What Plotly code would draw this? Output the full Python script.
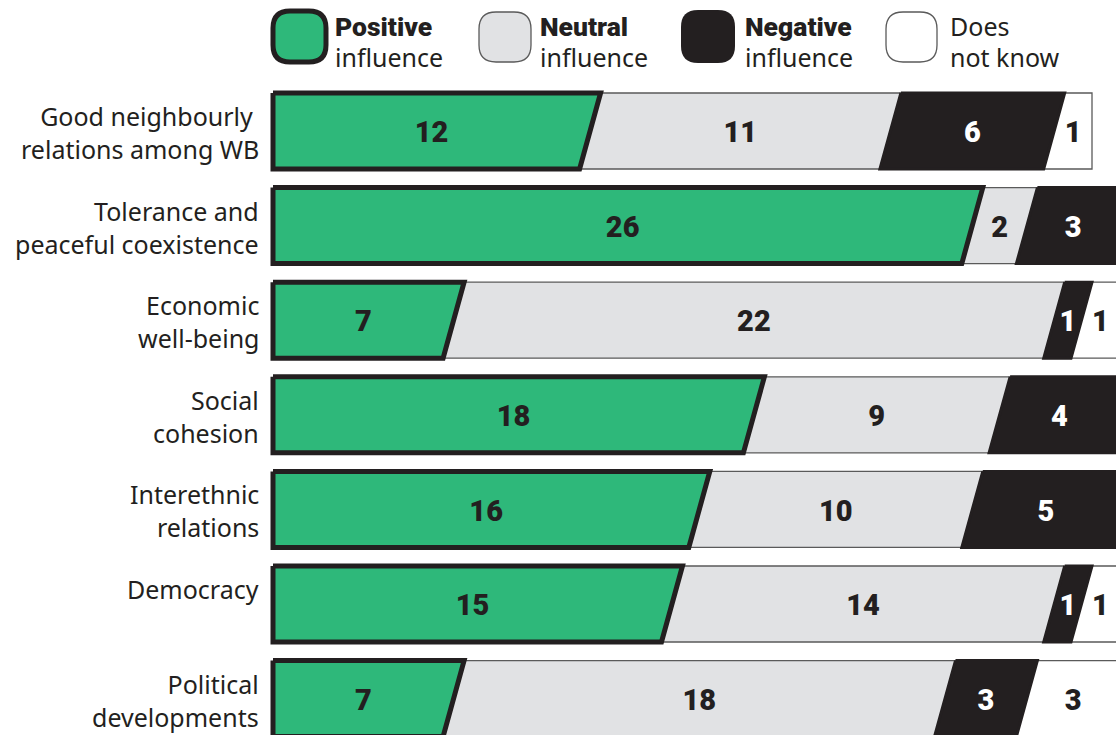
import plotly.graph_objects as go

categories = [
    "Good neighbourly <br>relations among WB",
    "Tolerance and<br>peaceful coexistence",
    "Economic<br>well-being",
    "Social<br>cohesion",
    "Interethnic<br>relations",
    "Democracy",
    "Political<br>developments",
]
positive = [12, 26, 7, 18, 16, 15, 7]
neutral = [11, 2, 22, 9, 10, 14, 18]
negative = [6, 3, 1, 4, 5, 1, 3]
dont_know = [1, 0, 1, 0, 0, 1, 3]

series_names = ["Positive influence", "Neutral influence", "Negative influence", "Does not know"]
series_values = [positive, neutral, negative, dont_know]

W, H = 1116, 735
DARK = "#231f20"
GREEN = "#2eb87a"
GREY = "#e1e2e4"
WHITE = "#ffffff"

fills = [GREEN, GREY, DARK, WHITE]
line_colors = [DARK, "#5a5a5a", DARK, "#5a5a5a"]
line_widths = [5, 1.3, 3, 1.3]
text_colors = [DARK, DARK, WHITE, DARK]

NUM_FONT = "Roboto"
LABEL_FONT = "Noto Sans"

# scale
PX_PER_UNIT = 27.3
X0_PX = 273
ROW_PX = 94.6
ROW0_PX = 131
xr = [-X0_PX / PX_PER_UNIT, (W - X0_PX) / PX_PER_UNIT]
yr = [(H - ROW0_PX) / ROW_PX, -ROW0_PX / ROW_PX]
SLANT = 21 / PX_PER_UNIT
HALF = 38 / ROW_PX
TEXT_DY = 4 / ROW_PX
LABEL_DY = -0.36

n = len(categories)
totals = [sum(s[i] for s in series_values) for i in range(n)]

fig = go.Figure()

polys = {k: ([], []) for k in range(4)}
texts = {k: ([], [], []) for k in range(4)}
for i in range(n):
    start = 0
    for k in range(4):
        v = series_values[k][i]
        if v == 0:
            continue
        a, b = start, start + v
        tot = totals[i]
        lt = a
        lb = a - SLANT if a > 0 else a
        rt = b
        rb = b - SLANT if b < tot else b
        xs, ys = polys[k]
        xs += [lt, rt, rb, lb, lt, None]
        ys += [i - HALF, i - HALF, i + HALF, i + HALF, i - HALF, None]
        lm = a - SLANT / 2 if a > 0 else a
        rm = b - SLANT / 2 if b < tot else b
        tx, ty, tt = texts[k]
        tx.append((lm + rm) / 2)
        ty.append(i + TEXT_DY)
        tt.append(str(v))
        start = b

draw_order = [1, 3, 0, 2]
for k in draw_order:
    xs, ys = polys[k]
    fig.add_trace(go.Scatter(
        x=xs, y=ys, mode="lines", fill="toself", fillcolor=fills[k],
        line=dict(color=line_colors[k], width=line_widths[k]),
        name=series_names[k], hoverinfo="skip", showlegend=False,
    ))
for k in range(4):
    tx, ty, tt = texts[k]
    fig.add_trace(go.Scatter(
        x=tx, y=ty, text=tt, mode="text",
        textfont=dict(family=NUM_FONT, size=29, color=text_colors[k], weight=900),
        showlegend=False, hoverinfo="skip",
    ))

annotations = []
for i, c in enumerate(categories):
    annotations.append(dict(
        x=0, y=i + LABEL_DY, xref="x", yref="y", text=c, showarrow=False,
        xanchor="right", yanchor="top", align="right", xshift=-12,
        font=dict(family=LABEL_FONT, size=25, color=DARK),
    ))

# legend (custom)
def rrect(x0, y0, x1, y1, r):
    def p(x, y):
        return f"{x / W:.5f},{1 - y / H:.5f}"
    return (f"M {p(x0 + r, y0)} L {p(x1 - r, y0)} Q {p(x1, y0)} {p(x1, y0 + r)} "
            f"L {p(x1, y1 - r)} Q {p(x1, y1)} {p(x1 - r, y1)} L {p(x0 + r, y1)} "
            f"Q {p(x0, y1)} {p(x0, y1 - r)} L {p(x0, y0 + r)} Q {p(x0, y0)} {p(x0 + r, y0)} Z")

legend_boxes = [(273, 11, 326, 62), (479, 12, 531, 62), (681, 10, 735, 63), (886, 12, 937, 62)]
legend_bold = ["Positive", "Neutral", "Negative", ""]
legend_line2 = ["influence", "influence", "influence", "not know"]
legend_line1_plain = ["", "", "", "Does"]
legend_text_x = [333, 538, 743, 948]
shapes = []
for k in range(4):
    x0, y0, x1, y1 = legend_boxes[k]
    shapes.append(dict(type="path", xref="paper", yref="paper",
                       path=rrect(x0, y0, x1, y1, 17),
                       fillcolor=fills[k], line=dict(color=line_colors[k], width=line_widths[k] if k != 2 else 0)))
    if legend_bold[k]:
        annotations.append(dict(x=legend_text_x[k] / W, y=1 - 26 / H, xref="paper", yref="paper",
                                text=legend_bold[k], showarrow=False, xanchor="left", yanchor="middle",
                                font=dict(family=NUM_FONT, size=26.5, color=DARK, weight=900)))
    else:
        annotations.append(dict(x=legend_text_x[k] / W, y=1 - 26 / H, xref="paper", yref="paper",
                                text=legend_line1_plain[k], showarrow=False, xanchor="left", yanchor="middle",
                                font=dict(family=LABEL_FONT, size=25, color=DARK)))
    annotations.append(dict(x=legend_text_x[k] / W, y=1 - 57 / H, xref="paper", yref="paper",
                            text=legend_line2[k], showarrow=False, xanchor="left", yanchor="middle",
                            font=dict(family=LABEL_FONT, size=25, color=DARK)))

fig.update_layout(
    width=W, height=H, margin=dict(l=0, r=0, t=0, b=0),
    paper_bgcolor="white", plot_bgcolor="white",
    xaxis=dict(range=xr, visible=False, fixedrange=True),
    yaxis=dict(range=yr, visible=False, fixedrange=True),
    annotations=annotations, shapes=shapes, showlegend=False,
)
fig.write_html("out.html", config={"displayModeBar": False},
               post_script="document.body.style.margin='0';document.body.style.overflow='hidden';")
